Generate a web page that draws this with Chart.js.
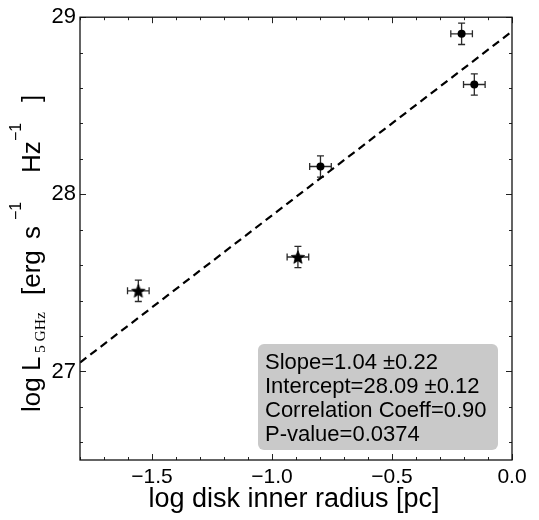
<!DOCTYPE html>
<html><head><meta charset="utf-8">
<script src="https://cdn.jsdelivr.net/npm/chart.js@4/dist/chart.umd.min.js"></script>
<style>html,body{margin:0;padding:0;background:#fff}#wrap{width:539px;height:520px}</style>
</head><body><div id="wrap"><canvas id="c" width="539" height="520"></canvas></div>
<script>
// ---- data ----
const starX = [-1.557, -0.892];
const starY = [27.455, 27.646];
const starXErr = [0.045, 0.045];
const starYErr = [0.06, 0.06];
const circX = [-0.798, -0.21, -0.157];
const circY = [28.157, 28.906, 28.62];
const circXErr = [0.045, 0.045, 0.045];
const circYErr = [0.06, 0.06, 0.06];
const fitX = [-1.8, 0.0];
const fitY = [27.05, 28.92];
const xTicks = [-1.5, -1.0, -0.5, 0.0];
const yTicks = [27, 28, 29];
const xMinor = [-1.8,-1.7,-1.6,-1.5,-1.4,-1.3,-1.2,-1.1,-1.0,-0.9,-0.8,-0.7,-0.6,-0.5,-0.4,-0.3,-0.2,-0.1,0.0];
const yMinor = [26.6,26.8,27.0,27.2,27.4,27.6,27.8,28.0,28.2,28.4,28.6,28.8,29.0];
const statLines = ["Slope=1.04 \u00b10.22", "Intercept=28.09 \u00b10.12", "Correlation Coeff=0.90", "P-value=0.0374"];
const xTitle = "log disk inner radius [pc]";

const SANS = '"Liberation Sans", Arial, Helvetica, sans-serif';
const SERIF = '"Liberation Serif", "DejaVu Serif", serif';

// star marker image
function starImg(R){
  const c=document.createElement('canvas'); const s=Math.ceil(R*2+2); c.width=s; c.height=s;
  const g=c.getContext('2d'); g.translate(s/2, s/2+R*0.09); g.beginPath();
  const r=R*0.44;
  for(let i=0;i<10;i++){const a=-Math.PI/2+i*Math.PI/5; const rr=i%2?r:R; g.lineTo(rr*Math.cos(a), rr*Math.sin(a));}
  g.closePath(); g.fillStyle='#000'; g.fill(); g.strokeStyle='#000'; g.lineWidth=0.8; g.stroke(); return c;
}
const star = starImg(7);

const fmtX = v => (v<0?'\u2212':'') + Math.abs(v).toFixed(1);

const errPlugin = {
  id:'err',
  beforeDatasetsDraw(chart){
    const {ctx, scales:{x,y}} = chart;
    ctx.save(); ctx.strokeStyle='#2a2a2a'; ctx.lineWidth=1.3;
    const cap=3.5;
    const draw=(xs,ys,xe,ye)=>{
      xs.forEach((xv,i)=>{
        const px=x.getPixelForValue(xv), py=y.getPixelForValue(ys[i]);
        const x1=x.getPixelForValue(xv-xe[i]), x2=x.getPixelForValue(xv+xe[i]);
        const y1=y.getPixelForValue(ys[i]-ye[i]), y2=y.getPixelForValue(ys[i]+ye[i]);
        ctx.beginPath();
        ctx.moveTo(x1,py); ctx.lineTo(x2,py);
        ctx.moveTo(x1,py-cap); ctx.lineTo(x1,py+cap);
        ctx.moveTo(x2,py-cap); ctx.lineTo(x2,py+cap);
        ctx.moveTo(px,y1); ctx.lineTo(px,y2);
        ctx.moveTo(px-cap,y1); ctx.lineTo(px+cap,y1);
        ctx.moveTo(px-cap,y2); ctx.lineTo(px+cap,y2);
        ctx.stroke();
      });
    };
    draw(starX,starY,starXErr,starYErr);
    draw(circX,circY,circXErr,circYErr);
    ctx.restore();
  },
  afterDraw(chart){
    const {ctx, chartArea:a, scales:{x,y}} = chart;
    ctx.save();
    // ticks (inward, all sides)
    ctx.strokeStyle='#222'; ctx.lineWidth=1;
    const isMajX = v => xTicks.some(t=>Math.abs(t-v)<1e-6);
    const isMajY = v => yTicks.some(t=>Math.abs(t-v)<1e-6);
    ctx.beginPath();
    xMinor.forEach(v=>{
      const L = isMajX(v)?6:3; const px=Math.round(x.getPixelForValue(v))+0.5;
      ctx.moveTo(px,a.bottom); ctx.lineTo(px,a.bottom-L);
      ctx.moveTo(px,a.top); ctx.lineTo(px,a.top+L);
    });
    yMinor.forEach(v=>{
      const L = isMajY(v)?6:3; const py=Math.round(y.getPixelForValue(v))+0.5;
      ctx.moveTo(a.left,py); ctx.lineTo(a.left+L,py);
      ctx.moveTo(a.right,py); ctx.lineTo(a.right-L,py);
    });
    ctx.stroke();
    // frame
    ctx.strokeStyle='#111'; ctx.lineWidth=1.3;
    ctx.strokeRect(a.left, a.top, a.right-a.left, a.bottom-a.top);

    // stats box
    ctx.fillStyle='#c9c9c9';
    ctx.beginPath(); ctx.roundRect(258, 344, 240, 106, 6); ctx.fill();
    ctx.fillStyle='#000'; ctx.font='22px '+SANS; ctx.textBaseline='alphabetic'; ctx.textAlign='left';
    statLines.forEach((s,i)=>ctx.fillText(s, 265, 368.5 + i*24.2));

    // x title
    ctx.font='27px '+SANS; ctx.textAlign='center';
    ctx.fillText(xTitle, (a.left+a.right)/2 - 2, 507);

    // y title (rotated)
    ctx.save();
    ctx.translate(40, 412); ctx.rotate(-Math.PI/2);
    ctx.textAlign='left'; ctx.textBaseline='alphabetic';
    const parts = [
      ['log', 0, 0, '26px '+SANS],
      ['L', 41, 0, '26px '+SANS],
      ['5 GHz', 59, 4.5, '15.5px '+SERIF],
      ['[erg', 117, 0, '26px '+SANS],
      ['s', 173, 0, '26px '+SANS],
      ['\u22121', 192, -19, '16px '+SANS],
      ['Hz', 239, 0, '26px '+SANS],
      ['\u22121', 271, -19, '16px '+SANS],
      [']', 310, 0, '26px '+SANS]
    ];
    parts.forEach(p=>{ctx.font=p[3]; ctx.fillText(p[0], p[1], p[2]);});
    ctx.restore();
    ctx.restore();
  }
};

new Chart(document.getElementById('c'), {
  type:'scatter',
  data:{datasets:[
    {data: starX.map((v,i)=>({x:v,y:starY[i]})), pointStyle: star, pointRadius:7, order:1},
    {data: circX.map((v,i)=>({x:v,y:circY[i]})), pointStyle:'circle', pointRadius:4, backgroundColor:'#000', borderColor:'#000', borderWidth:0, order:1},
    {type:'line', data: fitX.map((v,i)=>({x:v,y:fitY[i]})), borderColor:'#000', borderWidth:2.2, borderDash:[8,5], pointRadius:0, fill:false, order:3}
  ]},
  options:{
    responsive:false, animation:false, events:[],
    layout:{padding:{left:0, top:15, right:27, bottom:0}},
    plugins:{legend:{display:false}, tooltip:{enabled:false}},
    scales:{
      x:{type:'linear', min:-1.8, max:0,
        grid:{display:false, drawTicks:false}, border:{display:false},
        afterBuildTicks:s=>{s.ticks=xTicks.map(v=>({value:v}));},
        afterFit:s=>{s.height=60;},
        ticks:{autoSkip:false, maxRotation:0, padding:5, color:'#000', font:{size:21, family:SANS}, callback:v=>fmtX(v)}},
      y:{type:'linear', min:26.5, max:29,
        grid:{display:false, drawTicks:false}, border:{display:false},
        afterBuildTicks:s=>{s.ticks=yTicks.map(v=>({value:v}));},
        afterFit:s=>{s.width=80;},
        ticks:{autoSkip:false, padding:4, color:'#000', font:{size:22, family:SANS}, callback:v=>String(v)}}
    }
  },
  plugins:[errPlugin]
});
</script></body></html>
